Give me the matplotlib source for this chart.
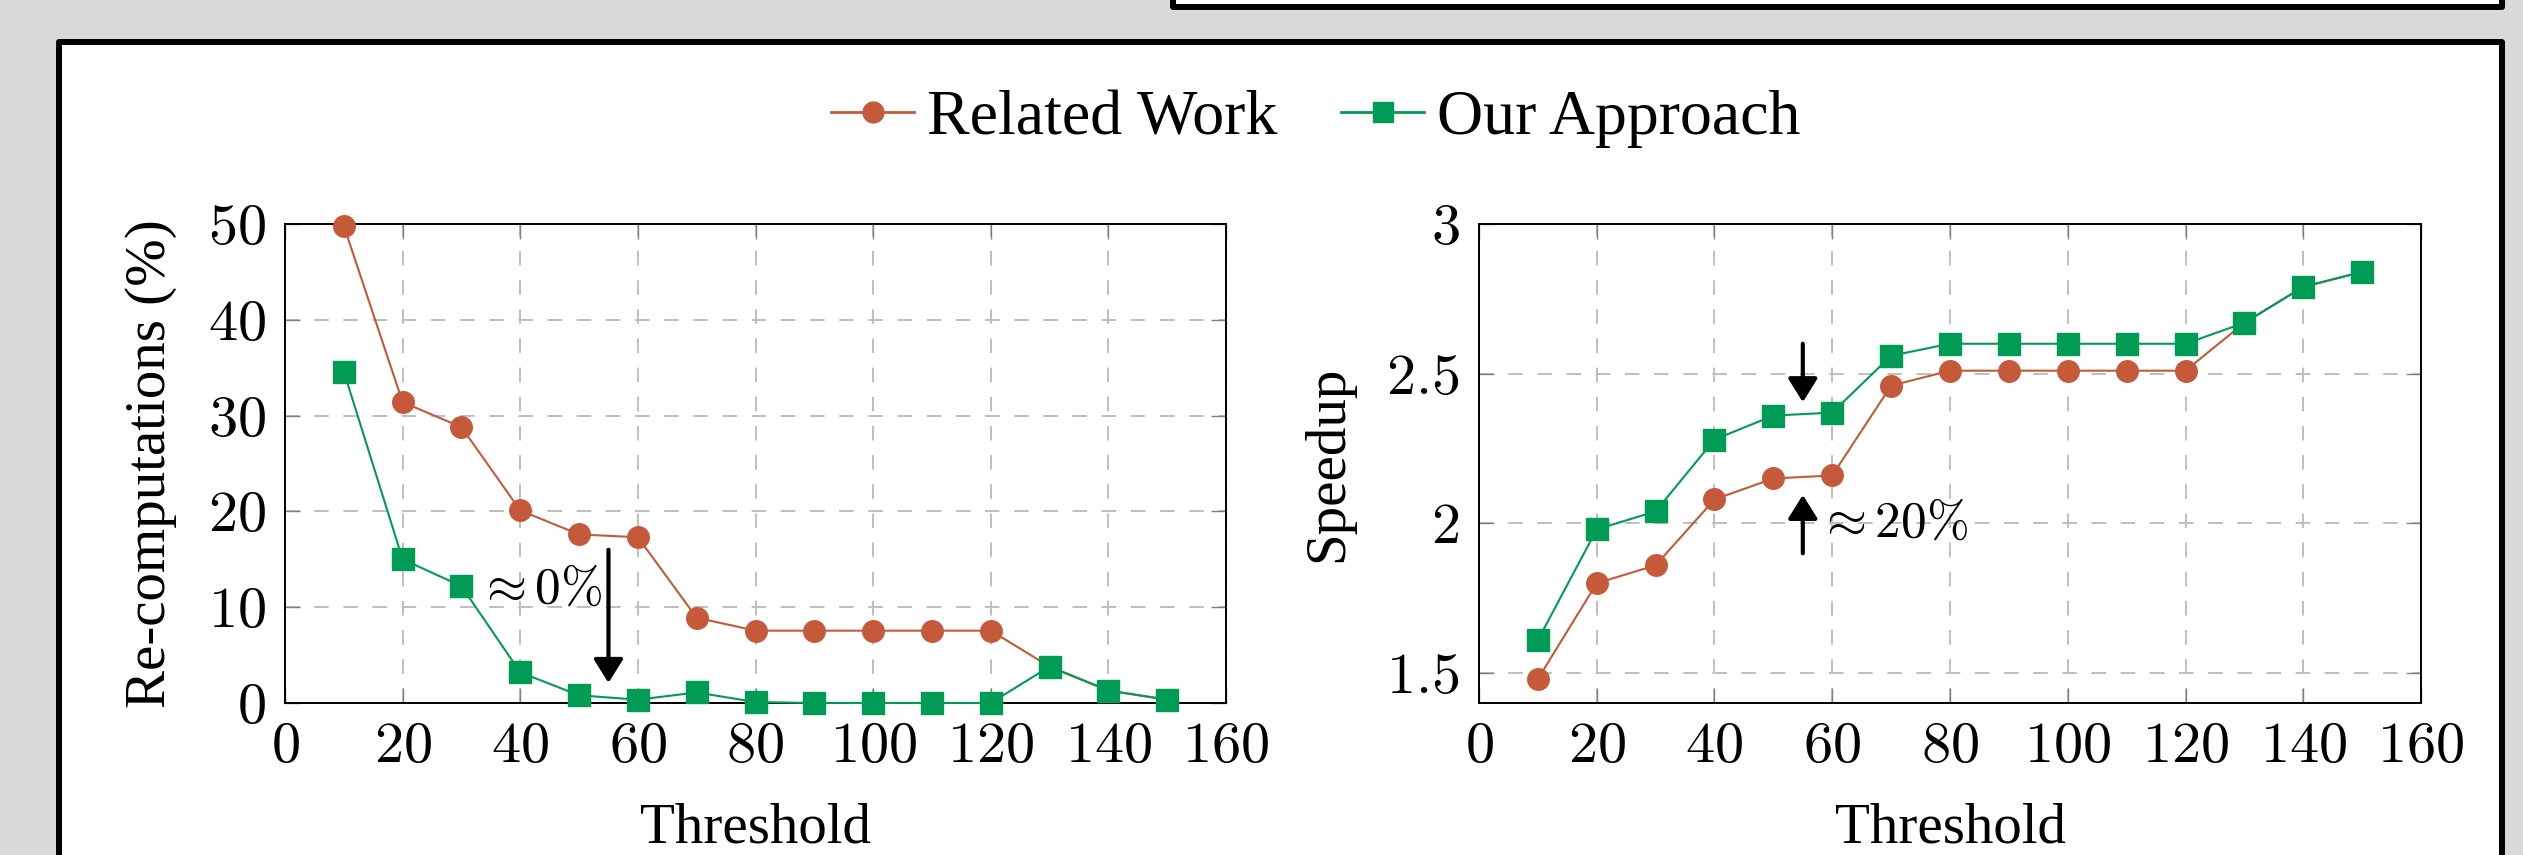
#!/usr/bin/env python3
"""
Re-computations and speedup vs. threshold: related work vs. our approach.

Output:
    out.png
"""

import matplotlib
matplotlib.use('Agg')
import matplotlib.pyplot as plt
from matplotlib.patches import Rectangle
from matplotlib.lines import Line2D
from matplotlib.ticker import FuncFormatter, MultipleLocator

# ---- data ----
thresholds = [10, 20, 30, 40, 50, 60, 70, 80, 90, 100, 110, 120, 130, 140, 150]

recomp_related = [49.8, 31.4, 28.8, 20.1, 17.6, 17.3, 8.9, 7.55, 7.55, 7.55, 7.55, 7.55, 3.8, 1.3, 0.35]
recomp_ours = [34.6, 15.0, 12.2, 3.2, 0.8, 0.35, 1.1, 0.1, 0.0, 0.0, 0.0, 0.0, 3.8, 1.3, 0.35]

speedup_related = [1.48, 1.80, 1.86, 2.08, 2.15, 2.16, 2.46, 2.51, 2.51, 2.51, 2.51, 2.51, 2.67, 2.79, 2.84]
speedup_ours = [1.61, 1.98, 2.04, 2.28, 2.36, 2.37, 2.56, 2.60, 2.60, 2.60, 2.60, 2.60, 2.67, 2.79, 2.84]

series_labels = ['Related Work', 'Our Approach']
x_label = 'Threshold'
y_labels = ['Re-computations (%)', 'Speedup']

RED = '#C5593A'
GREEN = '#009B55'
BG = '#D9D9D9'

W, H = 2523, 855  # output size in px (dpi 100)

plt.rcParams['mathtext.fontset'] = 'cm'
plt.rcParams['font.family'] = ['Liberation Serif', 'DejaVu Serif']


def fx(px):
    return px / W


def fy(py):
    return 1 - py / H


def style_axes(ax):
    ax.set_xlim(0, 160)
    ax.xaxis.set_major_locator(MultipleLocator(20))
    fmt = FuncFormatter(lambda v, p: f'${v:g}$')
    ax.xaxis.set_major_formatter(fmt)
    ax.yaxis.set_major_formatter(fmt)
    ax.tick_params(axis='both', which='major', direction='in', length=10.8,
                   width=1.0, color='#808080', labelsize=42, pad=14,
                   top=True, right=True)
    ax.grid(True, color='#BEBEBE', linewidth=1.4, linestyle=(0, (7.5, 7.5)))
    ax.set_axisbelow(True)
    for sp in ax.spines.values():
        sp.set_linewidth(1.4)
        sp.set_color('black')
    ax.set_xlabel(x_label, fontsize=41, labelpad=20)


def plot_pair(ax, related, ours):
    ax.plot(thresholds, related, '-o', color=RED, lw=1.5, ms=15.5,
            clip_on=False, zorder=3)
    ax.plot(thresholds, ours, '-s', color=GREEN, lw=1.5, ms=15.5,
            clip_on=False, zorder=4)


def arrow(ax, start, end):
    ax.annotate('', xy=end, xytext=start,
                arrowprops=dict(arrowstyle='-|>,head_length=0.4,head_width=0.25',
                                lw=3, color='black', mutation_scale=36,
                                shrinkA=0, shrinkB=0),
                zorder=6)


def main():
    fig = plt.figure(figsize=(W / 100, H / 100), dpi=100, facecolor=BG)

    # panel boxes (white cards with black border)
    fig.add_artist(Rectangle((fx(1173), fy(7.5)), fx(2502) - fx(1173), 40 / H,
                             transform=fig.transFigure, facecolor='white',
                             edgecolor='black', lw=4.3, zorder=-2,
                             joinstyle='round'))
    fig.add_artist(Rectangle((fx(59), fy(880)), fx(2502) - fx(59), (880 - 42) / H,
                             transform=fig.transFigure, facecolor='white',
                             edgecolor='black', lw=4.3, zorder=-2,
                             joinstyle='round'))

    ax1 = fig.add_axes([fx(285), fy(703), fx(1226) - fx(285), (703 - 224) / H])
    ax2 = fig.add_axes([fx(1479), fy(703), fx(2421) - fx(1479), (703 - 224) / H])

    # left: re-computations
    plot_pair(ax1, recomp_related, recomp_ours)
    style_axes(ax1)
    ax1.set_ylim(0, 50)
    ax1.yaxis.set_major_locator(MultipleLocator(10))
    ax1.set_ylabel(y_labels[0], fontsize=41, labelpad=22)
    arrow(ax1, (55, 16.0), (55, 2.1))
    ax1.text(54, 11.8, r'$\approx 0\%$', fontsize=37, ha='right', va='center')

    # right: speedup
    plot_pair(ax2, speedup_related, speedup_ours)
    style_axes(ax2)
    ax2.set_ylim(1.4, 3.0)
    ax2.set_yticks([1.5, 2.0, 2.5, 3.0])
    ax2.set_ylabel(y_labels[1], fontsize=41, labelpad=23)
    arrow(ax2, (55, 2.60), (55, 2.405))
    arrow(ax2, (55, 1.90), (55, 2.095))
    ax2.text(57.4, 1.995, r'$\approx 20\%$', fontsize=37, ha='left', va='center')

    # shared legend on top
    handles = [
        Line2D([], [], color=RED, marker='o', lw=2, ms=15),
        Line2D([], [], color=GREEN, marker='s', lw=2, ms=15),
    ]
    fig.legend(handles, series_labels, loc='center', ncol=2, frameon=False,
               bbox_to_anchor=(fx(1316), fy(119)), fontsize=46,
               handlelength=1.3, handletextpad=0.2, columnspacing=1.0,
               numpoints=1)

    fig.savefig('out.png', dpi=100, facecolor=BG)


if __name__ == '__main__':
    main()
